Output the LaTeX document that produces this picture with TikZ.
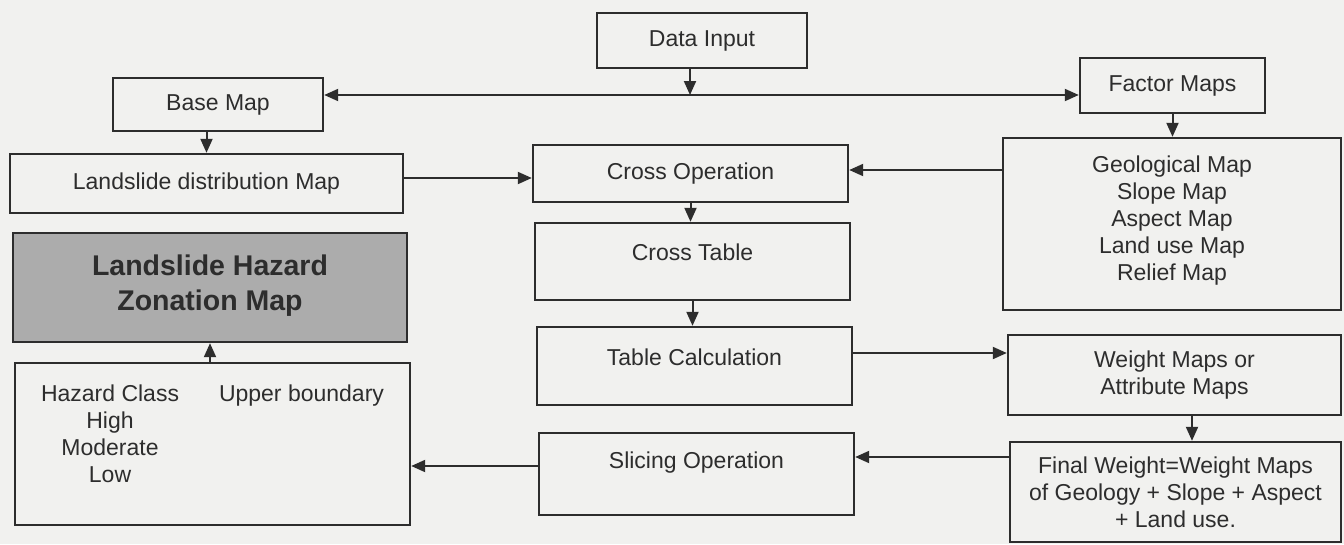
\documentclass[tikz,border=0pt]{standalone}
\usepackage{fontspec}
\setmainfont{Liberation Sans}
\usetikzlibrary{arrows.meta}
\definecolor{paper}{RGB}{241,241,239}
\definecolor{ink}{RGB}{45,45,45}
\definecolor{shade}{RGB}{172,172,172}
\tikzstyle{bx}=[draw=ink, rectangle, line width=2.4pt, inner xsep=4pt, inner ysep=0pt, align=center, text=ink]
\tikzstyle{ln}=[color=ink, line width=2pt]
\def\tGeo{Geological Map\\ Slope Map\\ Aspect Map\\ Land use Map\\ Relief Map}
\def\tWgt{Weight Maps or\\ Attribute Maps}
\def\tFin{Final Weight=Weight Maps\\ of Geology + Slope + Aspect\\ + Land use.}
\def\tHaz{\begin{tabular}[t]{@{}c@{\hspace{40pt}}c@{}}Hazard Class & Upper boundary\\ High & \\ Moderate & \\ Low & \end{tabular}}

\begin{document}
\begin{tikzpicture}[x=1pt, y=-1pt, >={Triangle[length=14pt,width=12pt]}, font=\fontsize{23}{27}\selectfont]
    \fill [paper] (0,0) rectangle (1344,544);
    \useasboundingbox (0,0) rectangle (1344,544);

    \node [bx, minimum width=210pt, minimum height=55pt] (D) at (702,40.5)  {Data Input};
    \node [bx, minimum width=210pt, minimum height=53pt] (B) at (218,104.5) {Base Map};
    \node [bx, minimum width=185pt, minimum height=55pt] (F) at (1172.5,85.5) {Factor Maps};
    \node [bx, minimum width=393pt, minimum height=59pt] (L) at (206.5,183.5) {Landslide distribution Map};
    \node [bx, minimum width=315pt, minimum height=57pt] (C) at (690.5,173.5) {Cross Operation};
    \node [bx, minimum width=338pt, text height=142pt, text depth=30pt] (G) at (1172,224) {\tGeo};
    \node [bx, fill=shade, minimum width=394pt, text height=77pt, text depth=32pt,
           font=\fontsize{28.5}{35}\bfseries\selectfont] (Z) at (210,287.5) {Landslide Hazard\\ Zonation Map};
    \node [bx, minimum width=315pt, text height=37pt, text depth=40pt] (T) at (692.5,261.5) {Cross Table};
    \node [bx, minimum width=315pt, text height=38pt, text depth=40pt] (K) at (694.5,366) {Table Calculation};
    \node [bx, minimum width=333pt, minimum height=80pt] (W) at (1174.5,375) {\tWgt};
    \node [bx, minimum width=395pt, text height=38pt, text depth=124pt] (H) at (212.5,444) {\tHaz};
    \node [bx, minimum width=315pt, text height=35pt, text depth=47pt] (S) at (696.5,474) {Slicing Operation};
    \node [bx, minimum width=331pt, minimum height=100pt] (X) at (1175.5,492) {\tFin};

    \coordinate (J) at (690,95);
    \path [ln, ->] (D.south -| J) edge (J)
                   (B.south -| L.north) edge (L.north)
                   (F.south) edge (F.south |- G.north)
                   (L.east |- 0,178) edge (C.west |- 0,178)
                   (G.west |- 0,170) edge (C.east |- 0,170)
                   (C.south) edge (C.south |- T.north)
                   (T.south) edge (T.south |- K.north)
                   (K.east |- 0,353) edge (W.west |- 0,353)
                   (W.south -| 1192,0) edge (X.north -| 1192,0)
                   (X.west |- 0,457) edge (S.east |- 0,457)
                   (S.west |- 0,466) edge (H.east |- 0,466)
                   (H.north -| Z.south) edge (Z.south);
    \path [ln, <->] (B.east |- J) edge (F.west |- J);

\end{tikzpicture}
\end{document}
